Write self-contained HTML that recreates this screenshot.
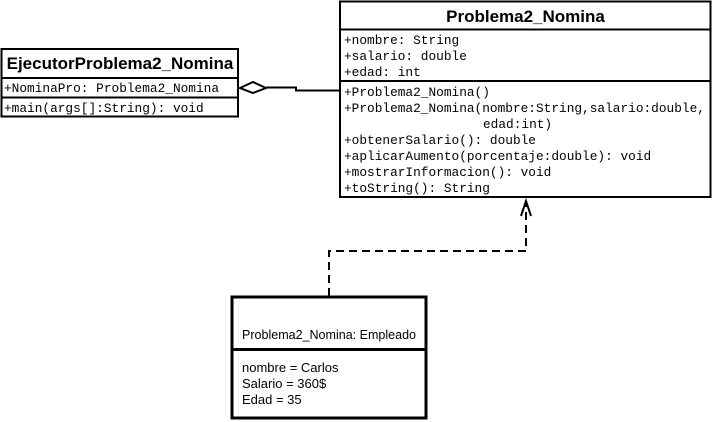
<!DOCTYPE html>
<html><head><meta charset="utf-8"><style>
html,body{margin:0;padding:0;background:#fff;}
svg{display:block;}
.m{font-family:"Liberation Mono",monospace;font-size:12.8px;fill:#000;}
.t{font-family:"Liberation Sans",sans-serif;font-weight:bold;font-size:17px;fill:#000;}
.s{font-family:"Liberation Sans",sans-serif;font-size:13px;fill:#000;}
</style></head><body>
<svg width="714" height="422" viewBox="0 0 714 422">
<rect x="340" y="1.5" width="370.5" height="195.5" fill="#fff" stroke="#000" stroke-width="2"/>
<line x1="340" y1="29.5" x2="710.5" y2="29.5" stroke="#000" stroke-width="2"/>
<line x1="340" y1="81" x2="710.5" y2="81" stroke="#000" stroke-width="2"/>
<text class="t" x="525.5" y="22" text-anchor="middle">Problema2_Nomina</text>
<text class="m" x="344" y="44">+nombre: String</text>
<text class="m" x="344" y="60">+salario: double</text>
<text class="m" x="344" y="76">+edad: int</text>
<text class="m" x="344" y="96">+Problema2_Nomina()</text>
<text class="m" x="344" y="112">+Problema2_Nomina(nombre:String,salario:double,</text>
<text class="m" x="483" y="128">edad:int)</text>
<text class="m" x="344" y="144">+obtenerSalario(): double</text>
<text class="m" x="344" y="160">+aplicarAumento(porcentaje:double): void</text>
<text class="m" x="344" y="176">+mostrarInformacion(): void</text>
<text class="m" x="344" y="192">+toString(): String</text>
<rect x="1.5" y="49" width="236.5" height="67.5" fill="#fff" stroke="#000" stroke-width="2"/>
<line x1="1.5" y1="78" x2="238" y2="78" stroke="#000" stroke-width="2"/>
<line x1="1.5" y1="97.5" x2="238" y2="97.5" stroke="#000" stroke-width="2"/>
<text class="t" x="120" y="69" text-anchor="middle">EjecutorProblema2_Nomina</text>
<text class="m" x="4" y="92">+NominaPro: Problema2_Nomina</text>
<text class="m" x="4" y="112">+main(args[]:String): void</text>
<polygon points="240,88 253,82 266,88 253,93" fill="#fff" stroke="#000" stroke-width="2"/>
<polyline points="266,87.5 296,87.5 296,90.5 340,90.5" fill="none" stroke="#000" stroke-width="2"/>
<polyline points="329,296 329,251 526,251 526,203" fill="none" stroke="#000" stroke-width="2" stroke-dasharray="8,5"/>
<polyline points="521,216 526,201 531,216" fill="none" stroke="#000" stroke-width="2"/>
<rect x="232" y="297" width="194" height="121" fill="#fff" stroke="#000" stroke-width="3"/>
<line x1="232" y1="349.5" x2="426" y2="349.5" stroke="#000" stroke-width="3"/>
<text class="s" x="242" y="339" textLength="174" lengthAdjust="spacingAndGlyphs">Problema2_Nomina: Empleado</text>
<text class="s" x="242" y="372">nombre = Carlos</text>
<text class="s" x="242" y="388">Salario = 360$</text>
<text class="s" x="242" y="404">Edad = 35</text>
</svg>
</body></html>
